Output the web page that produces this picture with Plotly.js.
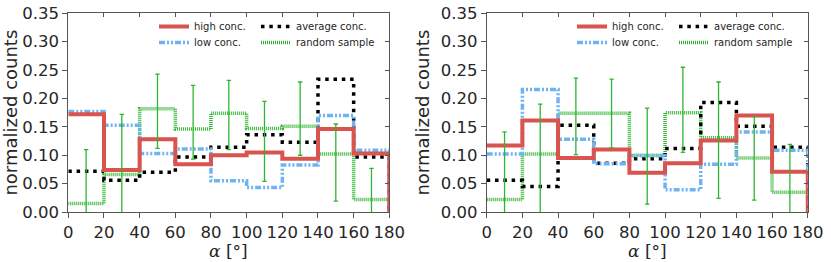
<!DOCTYPE html>
<html><head><meta charset="utf-8">
<script src="https://cdn.plot.ly/plotly-3.0.1.min.js"></script>
<style>body{margin:0;padding:0;background:#fff}#chart{width:831px;height:262px}</style>
</head><body><div id="chart"></div>
<script>
// bin edges and centres (alpha in degrees)
const binEdges = [0, 20, 40, 60, 80, 100, 120, 140, 160, 180];
const binCenters = [10, 30, 50, 70, 90, 110, 130, 150, 170];
const xTicks = [0, 20, 40, 60, 80, 100, 120, 140, 160, 180];
const yTicks = [0, 0.05, 0.10, 0.15, 0.20, 0.25, 0.30, 0.35];

// left panel
const highL = [0.172, 0.074, 0.128, 0.084, 0.100, 0.105, 0.094, 0.146, 0.103];
const lowL  = [0.177, 0.153, 0.103, 0.111, 0.055, 0.043, 0.083, 0.170, 0.109];
const avgL  = [0.072, 0.056, 0.070, 0.097, 0.114, 0.136, 0.123, 0.234, 0.097];
const randL = [0.015, 0.066, 0.182, 0.146, 0.174, 0.147, 0.151, 0.102, 0.022];
const errTopL = [0.110, 0.172, 0.243, 0.223, 0.232, 0.195, 0.229, 0.155, 0.077];
const errBotL = [-0.08, -0.04, 0.112, 0.093, 0.110, 0.054, 0.100, 0.019, -0.03];

// right panel
const highR = [0.117, 0.161, 0.095, 0.110, 0.069, 0.086, 0.126, 0.170, 0.071];
const lowR  = [0.102, 0.216, 0.128, 0.085, 0.099, 0.039, 0.084, 0.141, 0.109];
const avgR  = [0.056, 0.045, 0.153, 0.086, 0.094, 0.112, 0.193, 0.151, 0.114];
const randR = [0.022, 0.102, 0.174, 0.174, 0.100, 0.175, 0.131, 0.095, 0.035];
const errTopR = [0.141, 0.190, 0.236, 0.234, 0.183, 0.255, 0.229, 0.168, 0.119];
const errBotR = [-0.097, -0.01, 0.101, 0.113, 0.014, 0.105, 0.024, 0.021, -0.05];

const names = ['high conc.', 'low conc.', 'average conc.', 'random sample'];
const xTitle = '<i>α</i> [°]';
const yTitle = 'normalized counts';

const RED = '#d9534f', BLUE = '#6fb4f2', BLACK = '#000000', GREEN = '#2fb52f';

function stepTrace(vals, name, line, xa, ya, leg) {
  return {
    x: binEdges, y: vals.concat([0]), type: 'scatter', mode: 'lines',
    line: Object.assign({shape: 'hv'}, line), name: name,
    xaxis: xa, yaxis: ya, legend: leg, hoverinfo: 'skip'
  };
}
function errTrace(vals, top, bot, xa, ya) {
  return {
    x: binCenters, y: vals, type: 'scatter', mode: 'markers',
    marker: {size: 0.1, color: 'rgba(0,0,0,0)'}, showlegend: false,
    xaxis: xa, yaxis: ya, hoverinfo: 'skip',
    error_y: {type: 'data', symmetric: false,
      array: top.map((t, i) => t - vals[i]),
      arrayminus: bot.map((b, i) => vals[i] - b),
      color: GREEN, thickness: 1.3, width: 2.2}
  };
}
// legend ids: [high, low, average, random]
function panel(hi, lo, av, rn, et, eb, xa, ya, legs) {
  return [
    stepTrace(rn, names[3], {color: GREEN, width: 3.5, dash: '1px,1px'}, xa, ya, legs[3]),
    stepTrace(av, names[2], {color: BLACK, width: 3.5, dash: '3.5px,4.8px'}, xa, ya, legs[2]),
    stepTrace(lo, names[1], {color: BLUE, width: 3.5, dash: '6px,2px,2px,2px,2px,2px'}, xa, ya, legs[1]),
    stepTrace(hi, names[0], {color: RED, width: 4}, xa, ya, legs[0]),
    errTrace(rn, et, eb, xa, ya)
  ];
}

const data = [].concat(
  panel(highL, lowL, avgL, randL, errTopL, errBotL, 'x', 'y', ['legend', 'legend2', 'legend3', 'legend4']),
  panel(highR, lowR, avgR, randR, errTopR, errBotR, 'x2', 'y2', ['legend5', 'legend6', 'legend7', 'legend8'])
);

const TXT = '#262626', AX = '#555555';
const tickFont = {family: 'DejaVu Sans', size: 16.5, color: TXT};
function xAxis(dom, anchor) {
  return {domain: dom, anchor: anchor, range: [0, 180], tickvals: xTicks,
    ticks: 'outside', ticklen: 5, tickwidth: 1, tickcolor: AX,
    showline: true, linecolor: AX, linewidth: 1, mirror: true,
    showgrid: false, zeroline: false, tickfont: tickFont};
}
function yAxis(anchor) {
  return {domain: [0.1908, 0.9492], anchor: anchor, range: [0, 0.35], tickvals: yTicks,
    tickformat: '.2f', ticks: 'outside', ticklen: 5, tickwidth: 1, tickcolor: AX,
    showline: true, linecolor: AX, linewidth: 1, mirror: true,
    showgrid: false, zeroline: false, tickfont: tickFont,
    title: {text: yTitle, font: {family: 'DejaVu Sans', size: 18, color: TXT}, standoff: 6}};
}
function topAxis(over, anchor) {
  return {overlaying: over, anchor: anchor, side: 'top', range: [0, 180], tickvals: xTicks,
    ticks: 'inside', ticklen: 4, tickwidth: 1, tickcolor: AX, showticklabels: false,
    showline: false, showgrid: false, zeroline: false};
}
function rightAxis(over, anchor) {
  return {overlaying: over, anchor: anchor, side: 'right', range: [0, 0.35], tickvals: yTicks,
    ticks: 'inside', ticklen: 4, tickwidth: 1, tickcolor: AX, showticklabels: false,
    showline: false, showgrid: false, zeroline: false};
}
function leg(xpx, ypx) {
  return {x: xpx / 831, y: 1 - ypx / 262, xanchor: 'left', yanchor: 'top',
    orientation: 'v', bgcolor: 'rgba(0,0,0,0)', borderwidth: 0, itemwidth: 30,
    font: {family: 'DejaVu Sans', size: 10, color: TXT}};
}
function xTitleAnn(xref) {
  return {text: xTitle, xref: xref + ' domain', yref: 'paper', x: 0.5, y: 0,
    xanchor: 'center', yanchor: 'bottom', showarrow: false, borderpad: 0,
    font: {family: 'DejaVu Serif', size: 17, color: TXT}};
}

const layout = {
  width: 831, height: 262, margin: {l: 0, r: 0, t: 0, b: 0},
  paper_bgcolor: '#fff', plot_bgcolor: '#fff', showlegend: true,
  xaxis: xAxis([0.0822, 0.4685], 'y'),
  yaxis: yAxis('x'),
  xaxis2: xAxis([0.5857, 0.9720], 'y2'),
  yaxis2: yAxis('x2'),
  xaxis3: topAxis('x', 'y'),
  yaxis3: rightAxis('y', 'x'),
  xaxis4: topAxis('x2', 'y2'),
  yaxis4: rightAxis('y2', 'x2'),
  legend: leg(154, 12), legend2: leg(154, 28), legend3: leg(256, 12), legend4: leg(256, 28),
  legend5: leg(572, 12), legend6: leg(572, 28), legend7: leg(674, 12), legend8: leg(674, 28),
  annotations: [xTitleAnn('x'), xTitleAnn('x2')]
};

// invisible helpers so the overlay tick axes are drawn
data.push({x: [0], y: [0], xaxis: 'x3', yaxis: 'y3', type: 'scatter', mode: 'markers',
  marker: {opacity: 0}, showlegend: false, hoverinfo: 'skip'});
data.push({x: [0], y: [0], xaxis: 'x4', yaxis: 'y4', type: 'scatter', mode: 'markers',
  marker: {opacity: 0}, showlegend: false, hoverinfo: 'skip'});

Plotly.newPlot('chart', data, layout, {staticPlot: true});
</script></body></html>
